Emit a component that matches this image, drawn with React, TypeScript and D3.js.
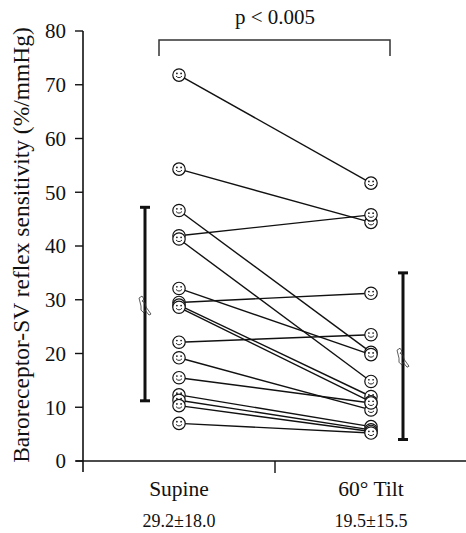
import React from "react";
import * as d3 from "d3";

const categories = ["Supine", "60° Tilt"];
const summaryLabels = ["29.2±18.0", "19.5±15.5"];
const means = [29.2, 19.5];
const sds = [18.0, 15.5];
const supineValues = [71.8, 54.3, 46.6, 41.9, 41.3, 32.1, 29.5, 29.0, 28.6, 22.1, 19.2, 15.5, 12.3, 11.3, 10.3, 7.0];
const tiltValues = [51.7, 44.4, 20.2, 45.8, 14.8, 19.8, 31.2, 12.0, 11.0, 23.5, 9.5, 10.8, 6.4, 5.8, 5.5, 5.2];
const yTicks = [0, 10, 20, 30, 40, 50, 60, 70, 80];

const W = 466;
const H = 533;
const FONT = "'Liberation Serif', 'Times New Roman', serif";

function Smiley({ cx, cy }: { cx: number; cy: number }) {
  return (
    <g>
      <circle cx={cx} cy={cy} r={6.2} fill="#fff" stroke="#111" strokeWidth={1.2} />
      <circle cx={cx - 2.1} cy={cy - 1.7} r={0.85} fill="#111" />
      <circle cx={cx + 2.1} cy={cy - 1.7} r={0.85} fill="#111" />
      <path d={`M${cx - 3},${cy + 1} Q${cx},${cy + 4.2} ${cx + 3},${cy + 1}`} fill="none" stroke="#111" strokeWidth={0.9} />
    </g>
  );
}

function MeanGlyph({ cx, cy }: { cx: number; cy: number }) {
  const d = `M${cx - 6},${cy - 6} l3,-2 l2,3 l-2,2 l3,2 l1,4 l5,7 l-2,1 l-4,-5 l-1,3 l-3,-3 l0,-4 z`;
  return <path d={d} fill="none" stroke="#333" strokeWidth={0.8} />;
}

export default function App() {
  const x = d3.scalePoint<string>().domain(categories).range([83, 467]).padding(0.5);
  const y = d3.scaleLinear().domain([0, 80]).range([461, 31]);
  const xs = categories.map((c) => x(c) as number);
  const offsets = [-34, 32];
  const pairs = supineValues.map((v, i) => [v, tiltValues[i]]);

  return (
    <svg width={W} height={H} style={{ display: "block", position: "absolute", left: 0, top: 0 }} fontFamily={FONT}>
      <rect width={W} height={H} fill="#fff" />
      {/* y axis */}
      <line x1={83} x2={83} y1={y(80)} y2={472} stroke="#111" strokeWidth={1.6} />
      {yTicks.map((t) => (
        <g key={t}>
          <line x1={75} x2={83} y1={y(t)} y2={y(t)} stroke="#111" strokeWidth={1.4} />
          <text x={66} y={y(t)} dy="0.35em" textAnchor="end" fontSize={21} fill="#111">{t}</text>
        </g>
      ))}
      {/* x axis */}
      <line x1={76} x2={467} y1={y(0)} y2={y(0)} stroke="#111" strokeWidth={1.6} />
      <line x1={275} x2={275} y1={y(0)} y2={y(0) + 12} stroke="#111" strokeWidth={1.4} />
      {categories.map((c, i) => (
        <g key={c}>
          <text x={xs[i]} y={496} textAnchor="middle" fontSize={21.5} fill="#111">{c}</text>
          <text x={xs[i]} y={527} textAnchor="middle" fontSize={18} fill="#111">{summaryLabels[i]}</text>
        </g>
      ))}
      {/* y title */}
      <text transform={`translate(29,${245}) rotate(-90)`} textAnchor="middle" fontSize={23.5} fill="#111">
        Baroreceptor-SV reflex sensitivity (%/mmHg)
      </text>
      {/* significance bracket */}
      <path d={`M${xs[0] - 20},56 V40 H${xs[1] + 19} V56`} fill="none" stroke="#333" strokeWidth={1.5} />
      <text x={275} y={24} textAnchor="middle" fontSize={21} fill="#111">p &lt; 0.005</text>
      {/* mean ± SD */}
      {means.map((m, i) => {
        const cx = xs[i] + offsets[i];
        return (
          <g key={i}>
            <line x1={cx} x2={cx} y1={y(m + sds[i])} y2={y(m - sds[i])} stroke="#111" strokeWidth={3} />
            <line x1={cx - 5} x2={cx + 5} y1={y(m + sds[i])} y2={y(m + sds[i])} stroke="#111" strokeWidth={3} />
            <line x1={cx - 5} x2={cx + 5} y1={y(m - sds[i])} y2={y(m - sds[i])} stroke="#111" strokeWidth={3} />
            <MeanGlyph cx={cx} cy={y(m)} />
          </g>
        );
      })}
      {/* paired lines */}
      {pairs.map(([a, b], i) => (
        <line key={i} x1={xs[0]} y1={y(a)} x2={xs[1]} y2={y(b)} stroke="#111" strokeWidth={1.4} />
      ))}
      {pairs.map(([a, b], i) => (
        <g key={"m" + i}>
          <Smiley cx={xs[0]} cy={y(a)} />
          <Smiley cx={xs[1]} cy={y(b)} />
        </g>
      ))}
    </svg>
  );
}
